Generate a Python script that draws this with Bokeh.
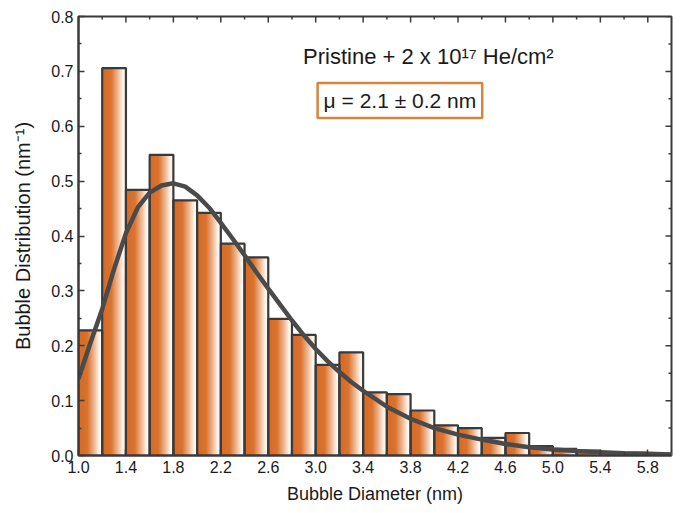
import numpy as np
from bokeh.plotting import figure
from bokeh.models import Range1d, FixedTicker, Label, NumeralTickFormatter
from bokeh.embed import file_html
from bokeh.resources import INLINE

# ---- data ----
bin_left = [1.0, 1.2, 1.4, 1.6, 1.8, 2.0, 2.2, 2.4, 2.6, 2.8, 3.0, 3.2, 3.4,
            3.6, 3.8, 4.0, 4.2, 4.4, 4.6, 4.8, 5.0, 5.2, 5.4, 5.6, 5.8]
bin_width = 0.2
heights = [0.228, 0.706, 0.484, 0.548, 0.465, 0.442, 0.386, 0.361, 0.249, 0.220,
           0.165, 0.188, 0.115, 0.112, 0.082, 0.055, 0.050, 0.032, 0.041, 0.017,
           0.012, 0.009, 0.006, 0.005, 0.003]

fit_x = [1.0, 1.1, 1.2, 1.3, 1.4, 1.5, 1.6, 1.7, 1.8, 1.9, 2.0, 2.1, 2.2, 2.3,
         2.4, 2.5, 2.6, 2.7, 2.8, 2.9, 3.0, 3.1, 3.2, 3.3, 3.4, 3.6, 3.8, 4.0,
         4.2, 4.4, 4.6, 4.8, 5.0, 5.2, 5.4, 5.6, 5.8, 6.0]
fit_y = [0.140, 0.205, 0.267, 0.340, 0.405, 0.452, 0.479, 0.492, 0.496, 0.490,
         0.474, 0.452, 0.424, 0.395, 0.365, 0.334, 0.304, 0.275, 0.246, 0.219,
         0.194, 0.172, 0.152, 0.134, 0.118, 0.089, 0.067, 0.050, 0.038, 0.029,
         0.021, 0.015, 0.011, 0.008, 0.006, 0.004, 0.003, 0.002]

x_ticks = [1.0, 1.4, 1.8, 2.2, 2.6, 3.0, 3.4, 3.8, 4.2, 4.6, 5.0, 5.4, 5.8]
x_minor = [1.2, 1.6, 2.0, 2.4, 2.8, 3.2, 3.6, 4.0, 4.4, 4.8, 5.2, 5.6]
y_ticks = [0.0, 0.1, 0.2, 0.3, 0.4, 0.5, 0.6, 0.7, 0.8]
y_minor = [0.05, 0.15, 0.25, 0.35, 0.45, 0.55, 0.65, 0.75]

title_text = "Pristine + 2 x 10\u00b9\u2077 He/cm\u00b2"
mu_text = "\u03bc = 2.1 \u00b1 0.2 nm"

FONT = "Liberation Sans"
DARK = "#3a3a3a"
X0, X1, Y0, Y1 = 1.0, 6.0, 0.0, 0.8
FW, FH = 593, 439

p = figure(frame_width=FW, frame_height=FH, output_backend="svg", toolbar_location=None,
           x_range=Range1d(X0, X1), y_range=Range1d(Y0, Y1),
           min_border_left=78, min_border_right=2, min_border_top=16, min_border_bottom=4)
p.background_fill_color = "white"
p.border_fill_color = "white"
p.outline_line_color = DARK
p.outline_line_width = 2
p.xgrid.visible = False
p.ygrid.visible = False

# ---- gradient-filled bars: vertical strips per bar ----
N = 24
stops_t = [0.0, 0.08, 0.40, 0.72, 0.92, 1.0]
stops_c = np.array([[234, 155, 100], [215, 108, 40], [219, 116, 48],
                    [242, 195, 162], [255, 252, 248], [250, 236, 225]])
tt = (np.arange(N) + 0.5) / N
cols = []
for t in tt:
    r = np.interp(t, stops_t, stops_c[:, 0])
    g = np.interp(t, stops_t, stops_c[:, 1])
    b = np.interp(t, stops_t, stops_c[:, 2])
    cols.append("#%02x%02x%02x" % (int(r), int(g), int(b)))

sl, sr, st, sc = [], [], [], []
for L, h in zip(bin_left, heights):
    for k in range(N):
        sl.append(L + k * bin_width / N)
        sr.append(L + (k + 1) * bin_width / N)
        st.append(h)
        sc.append(cols[k])
p.quad(left=sl, right=sr, top=st, bottom=0, fill_color=sc, line_color=sc, line_width=1)

rights = [L + bin_width for L in bin_left]
p.quad(left=bin_left, right=rights, top=heights, bottom=0,
       fill_color=None, line_color=DARK, line_width=2.2)

p.line(fit_x, fit_y, line_color="#4a4a4a", line_width=4.5)

# ---- axes ----
def style_axis(ax):
    ax.axis_line_color = DARK
    ax.axis_line_width = 2
    ax.major_tick_line_color = DARK
    ax.minor_tick_line_color = DARK
    ax.major_tick_line_width = 1.5
    ax.minor_tick_line_width = 1.5
    ax.major_tick_in = 6
    ax.major_tick_out = 0
    ax.minor_tick_in = 3
    ax.minor_tick_out = 0
    ax.major_label_text_font = FONT
    ax.major_label_text_font_size = "16px"
    ax.major_label_text_color = "#1a1a1a"
    ax.major_label_standoff = 5
    ax.axis_label_text_font = FONT
    ax.axis_label_text_font_size = "18px"
    ax.axis_label_text_font_style = "normal"
    ax.axis_label_text_color = "#1a1a1a"

p.xaxis.ticker = FixedTicker(ticks=x_ticks, minor_ticks=x_minor)
p.yaxis.ticker = FixedTicker(ticks=y_ticks, minor_ticks=y_minor)
p.xaxis.formatter = NumeralTickFormatter(format="0.0")
p.yaxis.formatter = NumeralTickFormatter(format="0.0")
style_axis(p.xaxis[0])
style_axis(p.yaxis[0])
p.xaxis.axis_label = "Bubble Diameter (nm)"
p.yaxis.axis_label = "Bubble Distribution (nm\u207b\u00b9)"
p.yaxis.axis_label_text_font_size = "20px"
p.xaxis.axis_label_standoff = 8
p.yaxis.axis_label_standoff = 14

# mirrored inward ticks on top and right edges (lengths in px converted to data units)
dx = (X1 - X0) / FW
dy = (Y1 - Y0) / FH
tx = x_ticks + x_minor
tlen_x = [6 * dy] * len(x_ticks) + [3 * dy] * len(x_minor)
p.segment(x0=tx, y0=[Y1] * len(tx), x1=tx, y1=[Y1 - l for l in tlen_x],
          line_color=DARK, line_width=1.5)
ty = y_ticks + y_minor
tlen_y = [6 * dx] * len(y_ticks) + [3 * dx] * len(y_minor)
p.segment(x0=[X1] * len(ty), y0=ty, x1=[X1 - l for l in tlen_y], y1=ty,
          line_color=DARK, line_width=1.5)

# ---- annotations ----
p.add_layout(Label(x=3.95, y=0.728, text=title_text, text_align="center",
                   text_baseline="middle", text_font=FONT, text_font_size="22px",
                   text_color="#1a1a1a"))
p.add_layout(Label(x=3.71, y=0.647, text=mu_text, text_align="center",
                   text_baseline="middle", text_font=FONT, text_font_size="21px",
                   text_color="#1a1a1a", border_line_color="#d9843c",
                   border_line_width=2.5, background_fill_color="white",
                   padding=6))

open("out.html", "w").write(file_html(p, INLINE))
